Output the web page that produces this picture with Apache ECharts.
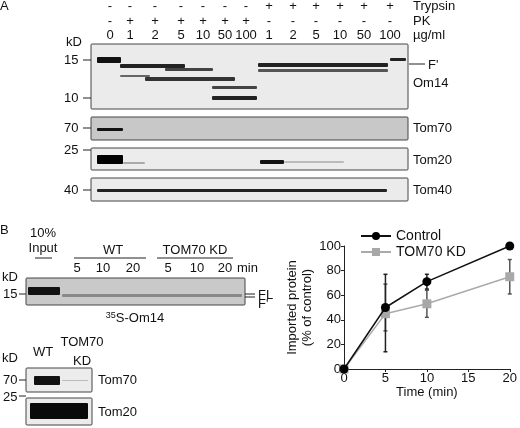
<!DOCTYPE html>
<html><head><meta charset="utf-8">
<script src="https://cdn.jsdelivr.net/npm/echarts@6/dist/echarts.min.js"></script>
<style>html,body{margin:0;background:#fff}#c{width:520px;height:428px}</style>
</head><body><div id="c"></div>
<script>
const times = [0, 5, 10, 20]
const control = [0, 50, 71, 100]
const controlErr = [[0, 0], [14, 77], [65, 77], [100, 100]]
const kd = [0, 45, 53, 75]
const kdErr = [[0, 0], [31, 69], [42, 64], [61, 89]]
const xTicks = [0, 5, 10, 15, 20]

const laneX = [110, 130, 155, 181, 203, 225, 246, 269, 293, 316, 340, 364, 390]
const trypsinRow = ['-', '-', '-', '-', '-', '-', '-', '+', '+', '+', '+', '+', '+']
const pkRow = ['-', '+', '+', '+', '+', '+', '+', '-', '-', '-', '-', '-', '-']
const doseRow = ['0', '1', '2', '5', '10', '50', '100', '1', '2', '5', '10', '50', '100']

const chart = echarts.init(document.getElementById('c'))
const F = 'Liberation Sans, Arial, sans-serif'
const g = []
const txt = (x, y, s, o = {}) => g.push({ type: 'text', x, y, style: Object.assign({ text: s, font: (o.size || 13) + 'px ' + F, fill: '#111', align: o.align || 'left', verticalAlign: 'middle' }, o.style || {}) })
const rect = (x, y, w, h, fill, stroke) => g.push({ type: 'rect', shape: { x, y, width: w, height: h, r: 1 }, style: { fill, stroke: stroke || null, lineWidth: 1 } })
const line = (x1, y1, x2, y2, w = 1) => g.push({ type: 'line', shape: { x1, y1, x2, y2 }, style: { stroke: '#222', lineWidth: w } })

// Panel A
txt(0, 6, 'A')
laneX.forEach((x, i) => {
  txt(x, 6, trypsinRow[i], { align: 'center' })
  txt(x, 21, pkRow[i], { align: 'center' })
  txt(x, 35, doseRow[i], { align: 'center' })
})
txt(413, 6, 'Trypsin'); txt(413, 21, 'PK'); txt(413, 35, 'µg/ml')
txt(66, 42, 'kD')
rect(91, 44, 317, 65, '#ebebeb', '#444')
rect(91, 117, 317, 23, '#c8c8c8', '#444')
rect(91, 148, 317, 22, '#ececec', '#444')
rect(91, 178, 317, 23, '#ebebeb', '#444')
txt(64, 60, '15'); line(83, 60, 91, 60)
txt(64, 98, '10'); line(83, 98, 91, 98)
txt(64, 128, '70'); line(83, 128, 91, 128)
txt(64, 150, '25'); line(83, 150, 91, 150)
txt(64, 190, '40'); line(83, 190, 91, 190)
line(409, 64, 425, 64)
txt(428, 65, "F'"); txt(413, 83, 'Om14')
txt(413, 128, 'Tom70'); txt(413, 160, 'Tom20'); txt(413, 190, 'Tom40')
// Om14 bands
rect(97, 57, 24, 6, '#111'); rect(120, 64, 65, 4, '#222'); rect(165, 68, 48, 3, '#444')
rect(120, 75, 30, 2, '#666'); rect(145, 77, 90, 4, '#333'); rect(212, 86, 45, 3, '#444'); rect(212, 96, 45, 4, '#222')
rect(258, 63, 130, 4, '#222'); rect(258, 69, 130, 3, '#555'); rect(390, 58, 16, 3, '#222')
// Tom70, Tom20, Tom40 bands
rect(97, 128, 26, 3, '#111')
rect(97, 155, 26, 9, '#000'); rect(123, 162, 22, 2, '#aaa')
rect(260, 160, 24, 4, '#111'); rect(284, 161, 60, 2, '#bbb')
rect(97, 189, 290, 3, '#222')

// Panel B
txt(0, 230, 'B')
txt(43, 233, '10%', { align: 'center' }); txt(43, 248, 'Input', { align: 'center' })
line(35, 258, 52, 258); line(74, 258, 146, 258); line(157, 258, 233, 258)
txt(113, 250, 'WT', { align: 'center' }); txt(195, 250, 'TOM70 KD', { align: 'center' })
;[[77, '5'], [103, '10'], [133, '20'], [168, '5'], [197, '10'], [225, '20']].forEach(([x, s]) => txt(x, 268, s, { align: 'center' }))
txt(237, 268, 'min')
txt(2, 277, 'kD'); txt(3, 294, '15'); line(19, 294, 26, 294)
rect(26, 278, 219, 27, '#c9c9c9', '#444')
rect(28, 287, 32, 8, '#111')
rect(62, 294, 180, 3, '#888')
line(245, 294, 255, 294); line(245, 297, 255, 297)
txt(258, 295, 'FL'); txt(258, 304, "F'")
g.push({ type: 'text', x: 135, y: 318, style: { rich: { s: { fontSize: 9, verticalAlign: 'top', fontFamily: F }, n: { fontSize: 13, fontFamily: F } }, text: '{s|35}{n|S-Om14}', align: 'center', verticalAlign: 'middle', fill: '#111' } })
txt(43, 352, 'WT', { align: 'center' }); txt(82, 342, 'TOM70', { align: 'center' }); txt(82, 361, 'KD', { align: 'center' })
txt(2, 358, 'kD')
rect(26, 368, 66, 24, '#ececec', '#444'); rect(26, 398, 66, 27, '#ececec', '#444')
txt(3, 380, '70'); line(19, 380, 26, 380); txt(3, 397, '25'); line(19, 396, 26, 396)
txt(98, 380, 'Tom70'); txt(98, 412, 'Tom20')
rect(34, 376, 26, 9, '#111'); rect(62, 380, 26, 1, '#bbb')
rect(30, 403, 58, 16, '#0a0a0a')

const errSeries = (name, err, color) => ({
  type: 'custom', name, z: 1, silent: true,
  data: times.map((t, i) => [t, err[i][0], err[i][1]]),
  renderItem: (p, api) => {
    const lo = api.coord([api.value(0), api.value(1)])
    const hi = api.coord([api.value(0), api.value(2)])
    const st = { stroke: color, lineWidth: 1.5 }
    return { type: 'group', children: [
      { type: 'line', shape: { x1: lo[0], y1: lo[1], x2: hi[0], y2: hi[1] }, style: st },
      { type: 'line', shape: { x1: lo[0] - 2, y1: lo[1], x2: lo[0] + 2, y2: lo[1] }, style: st },
      { type: 'line', shape: { x1: hi[0] - 2, y1: hi[1], x2: hi[0] + 2, y2: hi[1] }, style: st }
    ] }
  }
})

chart.setOption({
  animation: false,
  textStyle: { fontFamily: F },
  grid: { left: 344, right: 9, top: 246, bottom: 59 },
  legend: {
    orient: 'vertical', left: 355, top: 224, itemGap: 2, itemWidth: 30, itemHeight: 10,
    textStyle: { fontSize: 14, color: '#111' },
    data: ['Control', 'TOM70 KD']
  },
  xAxis: {
    type: 'value', min: 0, max: 20, interval: 5,
    name: 'Time (min)', nameLocation: 'middle', nameGap: 17, nameTextStyle: { fontSize: 13, color: '#111' },
    axisLine: { lineStyle: { color: '#222' } }, axisTick: { length: 3 },
    axisLabel: { color: '#111', fontSize: 13, margin: 3, customValues: xTicks }, splitLine: { show: false }
  },
  yAxis: {
    type: 'value', min: 0, max: 100, interval: 20,
    name: 'Imported protein\n(% of control)', nameLocation: 'middle', nameGap: 28, nameTextStyle: { fontSize: 13, color: '#111', lineHeight: 15 },
    axisLine: { show: true, lineStyle: { color: '#222' } }, axisTick: { show: true, length: 3 },
    axisLabel: { color: '#111', fontSize: 13, margin: 3 }, splitLine: { show: false }
  },
  series: [
    errSeries('errKD', kdErr, '#555'),
    errSeries('errC', controlErr, '#222'),
    { name: 'TOM70 KD', type: 'line', data: times.map((t, i) => [t, kd[i]]), symbol: 'rect', symbolSize: 9,
      itemStyle: { color: '#a8a8a8' }, lineStyle: { color: '#aaa', width: 1.5 }, z: 2 },
    { name: 'Control', type: 'line', data: times.map((t, i) => [t, control[i]]), symbol: 'circle', symbolSize: 9,
      itemStyle: { color: '#000' }, lineStyle: { color: '#111', width: 1.5 }, z: 3 }
  ],
  graphic: g
})
</script></body></html>
